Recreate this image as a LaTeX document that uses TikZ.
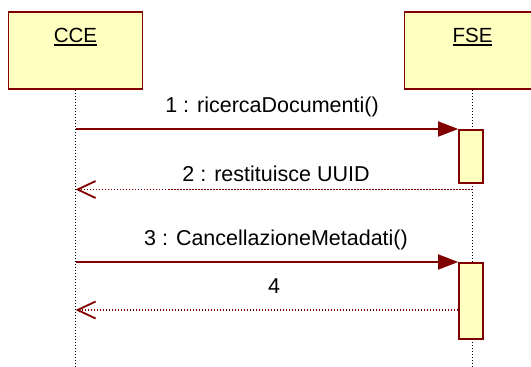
\documentclass[tikz,border=0pt]{standalone}
\usepackage{fontspec}
\setmainfont{Liberation Sans}
\usepackage{tikz}
\usetikzlibrary{arrows.meta}

\definecolor{umlred}{RGB}{128,0,0}
\definecolor{umlyellow}{RGB}{255,255,192}
\newcommand{\objname}[1]{\setbox0=\hbox{#1}\rlap{\rule[-3pt]{\wd0}{1.5pt}}\box0}

\begin{document}
\begin{tikzpicture}[x=1pt, y=-1pt,
	objbox/.style={draw=umlred, fill=umlyellow, line width=1.6pt, minimum width=134pt, minimum height=77pt},
	actbox/.style={draw=umlred, fill=umlyellow, line width=1.6pt, minimum width=24pt, minimum height=#1, anchor=north},
	lifeline/.style={black, line width=1.6pt, dash pattern=on 1.3pt off 1.7pt},
	call/.style={umlred, line width=1.6pt, -{Triangle[length=20pt, width=15pt]}},
	reply/.style={umlred, line width=1.6pt, dash pattern=on 1.5pt off 1.5pt, -{Straight Barb[length=18pt, width=17pt, line width=1.8pt]}},
	msg/.style={anchor=base, font=\fontsize{21.5}{25}\selectfont},
	objtext/.style={anchor=base, font=\fontsize{20.5}{25}\selectfont}]
	%\draw[help lines] (0,0) grid[step=50pt] (531,367);
	\useasboundingbox (0,0) rectangle (531,367);
	\clip (0,0) rectangle (531,367);
	% objects
	\node[objbox] (cce) at (75.5,50.5) {};
	\node[objbox, minimum width=136pt] (fse) at (472.5,50.5) {};
	\node[objtext] (ccename) at (75.5,42.7) {\objname{CCE}};
	\node[objtext] (fsename) at (472.5,42.7) {\objname{FSE}};
	\coordinate (cceend) at (75.5,367);
	\coordinate (fseend) at (472.5,367);
	\draw[lifeline] (cce.south) -- (cceend);
	\draw[lifeline] (fse.south) -- (fseend);
	% activations
	\node[actbox=53pt] (act1) at (471,129) {};
	\node[actbox=76pt] (act2) at (471,262) {};
	% messages
	\draw[call] (cce.south |- act1.north) -- (act1.north west);
	\node[msg] (lbl1) at (272,112) {1 : ricercaDocumenti()};
	\coordinate (ret1) at (472.5,189.5);
	\draw[reply] (ret1) -- (ret1 -| cce.south);
	\node[msg] (lbl2) at (276,181.5) {2 : restituisce UUID};
	\draw[call] (cce.south |- act2.north) -- (act2.north west);
	\node[msg] (lbl3) at (276,245.5) {3 : CancellazioneMetadati()};
	\coordinate (ret2) at (act2.west |- 0,310);
	\draw[reply] (ret2) -- (ret2 -| cce.south);
	\node[msg] (lbl4) at (274,293) {4};
\end{tikzpicture}
\end{document}
